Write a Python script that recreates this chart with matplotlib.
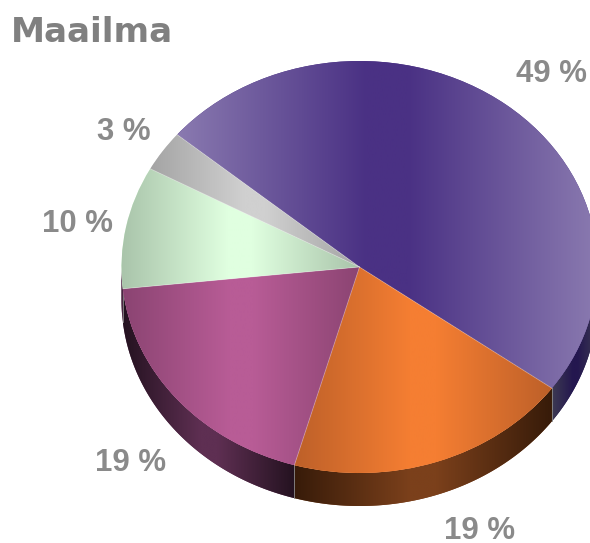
# -*- coding: utf-8 -*-
import numpy as np
import matplotlib
matplotlib.use('Agg')
import matplotlib.pyplot as plt
from matplotlib.colors import LinearSegmentedColormap

# data, largest slice first, clockwise
shares = [48.9, 19.4, 18.9, 9.6, 3.2]
title = 'Maailma'
top_edge = ['#8a7ab0', '#bd6029', '#8b4472', '#a9c4aa', '#a4a4a4']
top_mid = ['#4a3184', '#f57e32', '#b85c96', '#e0ffe0', '#d0d0d0']
side_edge = ['#3d3a52', '#371b09', '#241220', '#241220', '#333333']
side_mid = ['#24174f', '#7b401b', '#5e2f52', '#5e2f52', '#555555']
label_px = [(551, 74), (480, 531), (131, 463), (78, 224), (124, 132)]

W, H = 590, 543
cx, cy = 359.5, 267  # pixels
rx, ry = 238, 206
depth = 33 / ry

fig = plt.figure(figsize=(W / 100, H / 100), dpi=100)
ax = fig.add_axes([0, 0, 1, 1])
xlim = (-cx / rx, (W - cx) / rx)
ylim = (-(H - cy) / ry, cy / ry)

wedges, _ = ax.pie(shares, startangle=140, counterclock=False, colors=top_mid,
                   radius=1, wedgeprops={'linewidth': 0})
for w in wedges:
    w.set_zorder(3)
ax.set_aspect('auto')


def gradient(patch, edge, mid, x0, x1, y0, y1, z):
    # small flat part in the middle
    cmap = LinearSegmentedColormap.from_list('g', [(0, edge), (0.45, mid), (0.55, mid), (1, edge)])
    im = ax.imshow(np.linspace(0, 1, 256).reshape(1, -1), cmap=cmap, vmin=0, vmax=1,
                   extent=(x0, x1, y0, y1), aspect='auto', zorder=z,
                   interpolation='bilinear')
    im.set_clip_path(patch)


# side wall
for i, w in enumerate(wedges):
    t1, t2 = w.theta1, w.theta2
    for off in (0, 360, -360):
        a, b = max(t1 + off, -180), min(t2 + off, 0)
        if b <= a:
            continue
        t = np.radians(np.linspace(a, b, 120))
        x = np.cos(t)
        y = np.sin(t)
        poly = ax.fill(np.r_[x, x[::-1]], np.r_[y, y[::-1] - depth],
                       color=side_mid[i], lw=0, zorder=1)[0]
        gradient(poly, side_edge[i], side_mid[i], x.min(), x.max(),
                 y.min() - depth, y.max(), 2)
        # seam on the side wall
        if a > -180:
            ax.plot([x[0], x[0]], [y[0], y[0] - depth], color='#8a8a8a', lw=0.6, zorder=2.5)

# top face
for i, w in enumerate(wedges):
    t = np.radians(np.linspace(w.theta1, w.theta2, 200))
    x = np.r_[0, np.cos(t)]
    gradient(w, top_edge[i], top_mid[i], x.min(), x.max(), -1, 1, 4)
    ax.plot([0, np.cos(t[0])], [0, np.sin(t[0])], color='white', alpha=0.35, lw=0.6, zorder=5)

ax.set_xlim(xlim)
ax.set_ylim(ylim)
ax.axis('off')

for v, (px, py) in zip(shares, label_px):
    fig.text(px / W, 1 - py / H, f'{v:.0f} %', ha='center', va='center', color='#8a8a8a',
             fontsize=22.4, fontweight='bold', family='Liberation Sans')
fig.text(11 / W, 1 - 33 / H, title, ha='left', va='center', color='#808080',
         fontsize=24.6, fontweight='bold', family='DejaVu Sans')

plt.savefig('out.png', dpi=100)
plt.close()
